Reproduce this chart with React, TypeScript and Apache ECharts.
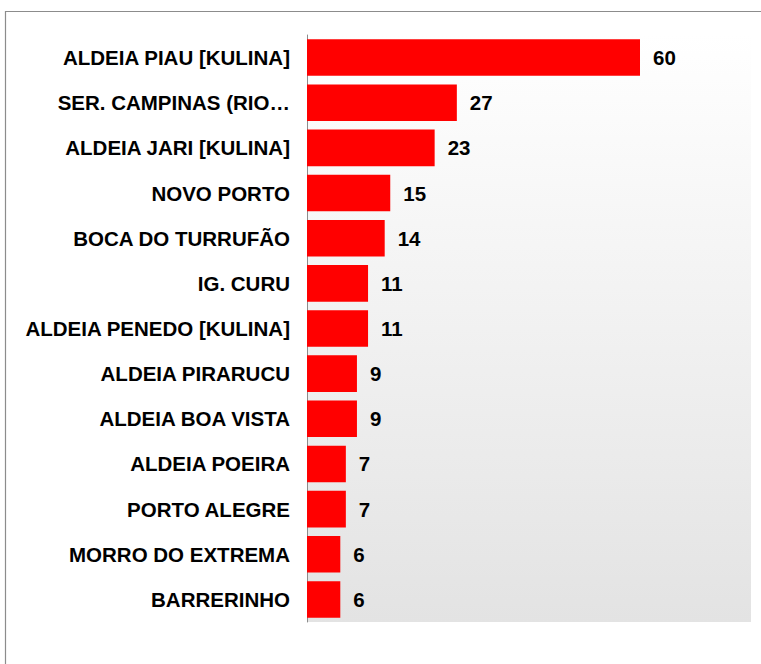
import React, { useEffect, useRef } from "react";
import * as echarts from "echarts";

const categories = [
  "ALDEIA PIAU [KULINA]",
  "SER. CAMPINAS (RIO…",
  "ALDEIA JARI [KULINA]",
  "NOVO PORTO",
  "BOCA DO TURRUFÃO",
  "IG. CURU",
  "ALDEIA PENEDO [KULINA]",
  "ALDEIA PIRARUCU",
  "ALDEIA BOA VISTA",
  "ALDEIA POEIRA",
  "PORTO ALEGRE",
  "MORRO DO EXTREMA",
  "BARRERINHO",
];
const values = [60, 27, 23, 15, 14, 11, 11, 9, 9, 7, 7, 6, 6];

export default function App() {
  const ref = useRef<HTMLDivElement>(null);
  useEffect(() => {
    if (!ref.current) return;
    const chart = echarts.init(ref.current, null, { renderer: "svg" });
    chart.setOption({
      animation: false,
      backgroundColor: "#ffffff",
      textStyle: { fontFamily: "Liberation Sans, Arial, sans-serif" },
      graphic: [
        {
          type: "rect",
          shape: { x: 5.5, y: 11.5, width: 800, height: 700 },
          style: { fill: "none", stroke: "#8c8c8c", lineWidth: 1.2 },
          silent: true,
        },
      ],
      grid: {
        left: 307,
        top: 35,
        right: 10,
        bottom: 42,
        show: true,
        borderWidth: 0,
        backgroundColor: new echarts.graphic.LinearGradient(0, 0, 0, 1, [
          { offset: 0, color: "#ffffff" },
          { offset: 1, color: "#e3e3e3" },
        ]),
      },
      xAxis: {
        type: "value",
        min: 0,
        max: 80,
        show: false,
        splitLine: { show: false },
      },
      yAxis: {
        type: "category",
        inverse: true,
        data: categories,
        axisLine: { show: true, lineStyle: { color: "#8c8c8c", width: 1 } },
        axisTick: { show: false },
        axisLabel: {
          color: "#000000",
          fontSize: 20.5,
          fontWeight: "bold",
          margin: 17,
          fontFamily: "Liberation Sans, Arial, sans-serif",
        },
      },
      series: [
        {
          type: "bar",
          data: values,
          barCategoryGap: "19%",
          itemStyle: { color: "#ff0000" },
          label: {
            show: true,
            position: "right",
            distance: 13,
            color: "#000000",
            fontSize: 20.5,
            fontWeight: "bold",
            fontFamily: "Liberation Sans, Arial, sans-serif",
          },
        },
      ],
    });
    return () => chart.dispose();
  }, []);
  return (
    <div
      ref={ref}
      style={{ position: "absolute", left: 0, top: 0, width: 761, height: 664 }}
    />
  );
}
